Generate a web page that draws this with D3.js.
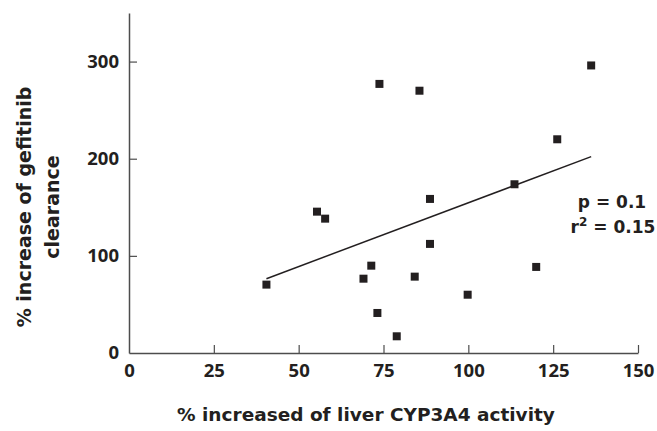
<!DOCTYPE html>
<html>
<head>
<meta charset="utf-8">
<script src="https://cdn.jsdelivr.net/npm/d3@7"></script>
<style>
  body { margin: 0; background: #fff; }
  text { font-family: "Open Sans", Lato, sans-serif; font-weight: bold; fill: #231f20; }
  text.title { font-family: "DejaVu Sans", sans-serif; }
</style>
</head>
<body>
<svg width="657" height="431"></svg>
<script>
// % increase of liver CYP3A4 activity (x) vs % increase of gefitinib clearance (y)
var cypActivity = [40.5, 55.4, 57.8, 69.1, 71.4, 73.2, 73.8, 78.9, 84.2, 85.6, 88.7, 88.7, 99.8, 113.6, 120.0, 126.2, 136.2];
var clearance   = [70.4, 145.5, 138.3, 76.5, 89.9, 41.2, 277, 17.2, 78.6, 270, 158.6, 112.3, 60.0, 173.7, 88.6, 220, 296];

// regression line end points
var fitX = [40.5, 136.2];
var fitY = [76.5, 202.2];

var xTicks = [0, 25, 50, 75, 100, 125, 150];
var yTicks = [0, 100, 200, 300];

var svg = d3.select("svg");
var mLeft = 129, mRight = 638, mTop = 13, mBottom = 353;

var xScale = d3.scaleLinear().domain([0, 150]).range([mLeft, mRight]);
var yScale = d3.scaleLinear().domain([0, 350]).range([mBottom, mTop]);

// x axis
var xAxis = svg.append("g")
  .attr("transform", "translate(0," + mBottom + ")")
  .call(d3.axisBottom(xScale).tickValues(xTicks).tickSizeInner(-8).tickSizeOuter(0).tickPadding(11));
xAxis.select(".domain").attr("stroke", "#4d4d4d").attr("stroke-width", 1.5);
xAxis.selectAll(".tick line").attr("stroke", "#4d4d4d").attr("stroke-width", 1.2);
xAxis.selectAll("text").style("font-size", "18.5px").attr("fill", "#231f20");
xAxis.selectAll(".tick").filter(function (d) { return d === 0; }).select("line").remove();

// y axis
var yAxis = svg.append("g")
  .attr("transform", "translate(" + mLeft + ",0)")
  .call(d3.axisLeft(yScale).tickValues(yTicks).tickSizeInner(-8).tickSizeOuter(0).tickPadding(10));
yAxis.select(".domain").attr("stroke", "#4d4d4d").attr("stroke-width", 1.5);
yAxis.selectAll(".tick line").attr("stroke", "#4d4d4d").attr("stroke-width", 1.2);
yAxis.selectAll("text").style("font-size", "18.5px").attr("fill", "#231f20");
yAxis.selectAll(".tick").filter(function (d) { return d === 0; }).select("line").remove();

// fit line
svg.append("line")
  .attr("x1", xScale(fitX[0])).attr("y1", yScale(fitY[0]))
  .attr("x2", xScale(fitX[1])).attr("y2", yScale(fitY[1]))
  .attr("stroke", "#231f20")
  .attr("stroke-width", 1.5);

// points
var sz = 8;
svg.append("g")
  .selectAll("rect")
  .data(cypActivity)
  .enter()
  .append("rect")
  .attr("x", function (d) { return xScale(d) - sz / 2; })
  .attr("y", function (d, i) { return yScale(clearance[i]) - sz / 2; })
  .attr("width", sz)
  .attr("height", sz)
  .attr("fill", "#231f20");

// x label
svg.append("text")
  .attr("class", "title")
  .attr("x", 366)
  .attr("y", 421)
  .attr("text-anchor", "middle")
  .style("font-size", "18.5px")
  .text("% increased of liver CYP3A4 activity");

// y label
var yl = svg.append("text")
  .attr("class", "title")
  .attr("text-anchor", "middle")
  .attr("transform", "translate(31,207)rotate(-90)")
  .style("font-size", "19px");
yl.append("tspan").attr("x", 0).attr("dy", 0).text("% increase of gefitinib");
yl.append("tspan").attr("x", 0).attr("dy", 28).text("clearance");

// stats
svg.append("text")
  .attr("class", "title")
  .attr("x", 612).attr("y", 208)
  .attr("text-anchor", "middle")
  .style("font-size", "17px")
  .text("p = 0.1");
var r2 = svg.append("text")
  .attr("class", "title")
  .attr("x", 613).attr("y", 233)
  .attr("text-anchor", "middle")
  .style("font-size", "17px");
r2.append("tspan").text("r");
r2.append("tspan").attr("dy", -7).style("font-size", "12px").text("2");
r2.append("tspan").attr("dy", 7).text(" = 0.15");
</script>
</body>
</html>
